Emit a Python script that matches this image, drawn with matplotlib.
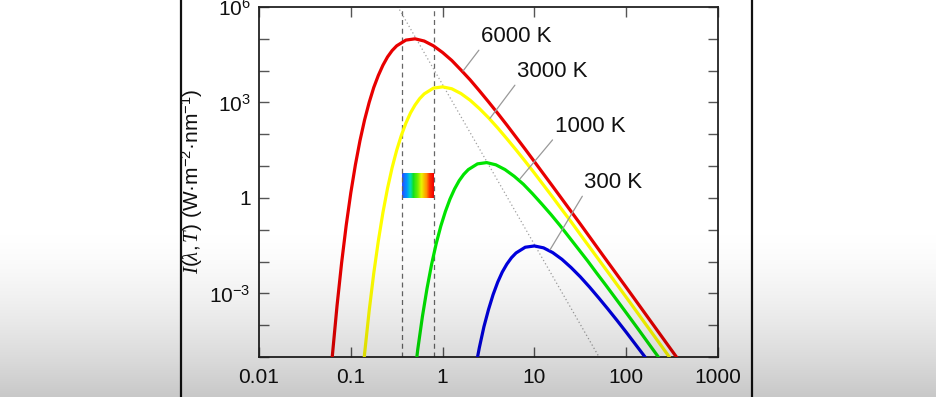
import numpy as np
import matplotlib
matplotlib.use("Agg")
import matplotlib.pyplot as plt
from matplotlib.colors import LinearSegmentedColormap
from matplotlib.lines import Line2D
from matplotlib.ticker import FixedLocator, FixedFormatter, NullLocator, NullFormatter

plt.rcParams['font.family'] = ['Liberation Sans', 'DejaVu Sans']
plt.rcParams['mathtext.fontset'] = 'custom'
plt.rcParams['mathtext.rm'] = 'Liberation Sans'
plt.rcParams['mathtext.it'] = 'Liberation Serif:italic'
plt.rcParams['mathtext.bf'] = 'Liberation Sans:bold'

# ---------------- data (log10 wavelength in um, log10 intensity in W m^-2 nm^-1) -------------
temperature_labels = ['6000 K', '3000 K', '1000 K', '300 K']
curve_colors = ['#e80000', '#ffff00', '#00e400', '#0000e0']

log_wl_6000 = [-1.205, -1.20, -1.15, -1.10, -1.05, -1.00, -0.95, -0.90, -0.85, -0.80,
               -0.75, -0.70, -0.65, -0.60, -0.55, -0.50, -0.40, -0.30, -0.20, -0.10,
               0.00, 0.10, 0.20, 0.30, 0.40, 0.50, 0.60, 0.70, 0.80, 0.90,
               1.00, 1.10, 1.20, 1.35, 1.50, 1.75, 2.00, 2.25, 2.56]
log_I_6000 = [-5.10, -4.93, -3.39, -2.04, -0.86, 0.16, 1.04, 1.80, 2.45, 3.00,
              3.47, 3.85, 4.17, 4.43, 4.63, 4.78, 4.96, 5.00, 4.93, 4.78,
              4.57, 4.32, 4.02, 3.71, 3.37, 3.02, 2.66, 2.29, 1.91, 1.53,
              1.14, 0.75, 0.36, -0.23, -0.82, -1.82, -2.81, -3.81, -5.05]

log_wl_3000 = [-0.90, -0.85, -0.80, -0.75, -0.70, -0.65, -0.60, -0.55, -0.50, -0.45,
               -0.40, -0.35, -0.30, -0.25, -0.20, -0.10, 0.00, 0.10, 0.20, 0.30,
               0.40, 0.50, 0.60, 0.70, 0.80, 0.90, 1.00, 1.10, 1.20, 1.30,
               1.40, 1.50, 1.65, 1.80, 2.05, 2.30, 2.55]
log_I_3000 = [-6.44, -4.90, -3.55, -2.37, -1.35, -0.46, 0.30, 0.95, 1.50, 1.96,
              2.35, 2.67, 2.92, 3.12, 3.27, 3.45, 3.49, 3.43, 3.28, 3.07,
              2.81, 2.52, 2.20, 1.86, 1.51, 1.15, 0.78, 0.40, 0.02, -0.37,
              -0.75, -1.15, -1.74, -2.33, -3.32, -4.32, -5.32]

log_wl_1000 = [-0.32, -0.27, -0.22, -0.17, -0.12, -0.07, -0.02, 0.03, 0.08, 0.13,
               0.18, 0.23, 0.28, 0.38, 0.48, 0.58, 0.68, 0.78, 0.88, 0.98,
               1.08, 1.18, 1.28, 1.38, 1.48, 1.58, 1.68, 1.78, 1.88, 1.98,
               2.13, 2.28, 2.53]
log_I_1000 = [-5.93, -4.75, -3.73, -2.85, -2.09, -1.44, -0.89, -0.43, -0.04, 0.28,
              0.54, 0.74, 0.89, 1.07, 1.11, 1.04, 0.89, 0.68, 0.43, 0.13,
              -0.19, -0.52, -0.87, -1.24, -1.61, -1.98, -2.37, -2.75, -3.14, -3.53,
              -4.12, -4.72, -5.71]

log_wl_300 = [0.35, 0.40, 0.45, 0.50, 0.55, 0.60, 0.65, 0.70, 0.75, 0.80,
              0.90, 1.00, 1.10, 1.20, 1.30, 1.40, 1.50, 1.60, 1.70, 1.80,
              1.90, 2.00, 2.10, 2.20, 2.30]
log_I_300 = [-5.46, -4.71, -4.05, -3.51, -3.04, -2.65, -2.33, -2.08, -1.88, -1.73,
             -1.55, -1.51, -1.57, -1.72, -1.93, -2.19, -2.48, -2.80, -3.14, -3.49,
             -3.85, -4.22, -4.60, -4.98, -5.37]

# Wien peak locus (dotted)
log_wl_peak = [-0.49, 1.72]
log_I_peak = [6.02, -5.08]

# visible band
visible_wl = [0.36, 0.80]
band_I = [1.0, 6.0]

# labels
label_wl = [2.62, 6.46, 16.7, 34.7]
label_logI = [5.06, 3.96, 2.24, 0.47]
leader_wl = [1.67, 3.28, 6.97, 14.8]
leader_logI = [3.99, 2.50, 0.60, -1.63]

x_ticks = [0.01, 0.1, 1, 10, 100, 1000]
x_ticklabels = ['0.01', '0.1', '1', '10', '100', '1000']
y_major = [1e-3, 1, 1e3, 1e6]
y_ticklabels = [r'$\mathregular{10^{-3}}$', '1', r'$\mathregular{10^{3}}$', r'$\mathregular{10^{6}}$']
y_minor = [1e-5, 1e-4, 1e-2, 1e-1, 1e1, 1e2, 1e4, 1e5]

# ---------------- figure ----------------
W, H = 936, 397
fig = plt.figure(figsize=(W / 100, H / 100), dpi=100)
fig.patch.set_facecolor('white')
ax = fig.add_axes([259 / W, 1 - 357 / H, (718 - 259) / W, (357 - 7) / H])
ax.set_xscale('log')
ax.set_yscale('log')
ax.set_xlim(0.01, 1000)
ax.set_ylim(1e-5, 1e6)

# visible spectrum band
spec_cmap = LinearSegmentedColormap.from_list('spec', [
    (0.00, '#2a4cff'), (0.14, '#0090ff'), (0.26, '#00d8c0'), (0.36, '#10e020'),
    (0.50, '#70f000'), (0.62, '#e8f000'), (0.76, '#ffa000'), (0.88, '#ff3000'),
    (1.00, '#f00000')])
xe = np.geomspace(visible_wl[0], visible_wl[1], 90)
ye = np.array(band_I)
cvals = np.linspace(0, 1, len(xe) - 1)[None, :]
ax.pcolormesh(xe, ye, cvals, cmap=spec_cmap, shading='flat', zorder=1)

for v in visible_wl:
    ax.axvline(v, color='#666666', lw=0.9, ls=(0, (4, 3)), zorder=2)

ax.plot(10 ** np.array(log_wl_peak), 10 ** np.array(log_I_peak),
        color='#a0a0a0', lw=0.9, ls=(0, (1, 2)), zorder=2)

series = [(log_wl_6000, log_I_6000), (log_wl_3000, log_I_3000),
          (log_wl_1000, log_I_1000), (log_wl_300, log_I_300)]
for (lw_, li_), c in zip(series, curve_colors):
    ax.plot(10 ** np.array(lw_), 10 ** np.array(li_), color=c, lw=2.3,
            solid_capstyle='butt', zorder=3)

for txt, tx, ty, px, py in zip(temperature_labels, label_wl, label_logI, leader_wl, leader_logI):
    ax.annotate(txt, xy=(px, 10 ** py), xytext=(tx, 10 ** ty), textcoords='data',
                ha='left', va='center', fontsize=16, color='#111111', zorder=4,
                arrowprops=dict(arrowstyle='-', color='#999999', lw=0.9,
                                relpos=(0, 0), shrinkA=0, shrinkB=0))

ax.xaxis.set_major_locator(FixedLocator(x_ticks))
ax.xaxis.set_major_formatter(FixedFormatter(x_ticklabels))
ax.xaxis.set_minor_locator(NullLocator())
ax.xaxis.set_minor_formatter(NullFormatter())
ax.yaxis.set_major_locator(FixedLocator(y_major))
ax.yaxis.set_major_formatter(FixedFormatter(y_ticklabels))
ax.yaxis.set_minor_locator(FixedLocator(y_minor))
ax.yaxis.set_minor_formatter(NullFormatter())

ax.tick_params(which='both', direction='in', length=7.5, width=1.0, color='#555555',
               top=True, right=True, labelsize=15, labelcolor='#111111')
ax.tick_params(axis='x', pad=8)
ax.tick_params(axis='y', pad=6)
for s in ax.spines.values():
    s.set_linewidth(1.3)
    s.set_color('#222222')

fig.text(192 / W, 1 - 181 / H, r'$I(\lambda,T)$ (W·m$^{-2}$·nm$^{-1}$)',
         rotation=90, ha='center', va='center', fontsize=15, color='#111111')

# frame lines
for xpx in (181, 752):
    fig.add_artist(Line2D([xpx / W, xpx / W], [0, 1], transform=fig.transFigure,
                          color='#111111', lw=1.6))

# bottom gray overlay gradient
rows = np.arange(H)
alpha = 0.22 * np.clip((rows - 220) / (H - 220), 0, 1) ** 1.6
over = np.zeros((H, 1, 4))
over[:, 0, 3] = alpha
oax = fig.add_axes([0, 0, 1, 1], zorder=20)
oax.imshow(over, aspect='auto', extent=[0, 1, 0, 1], interpolation='bilinear')
oax.set_axis_off()

fig.savefig('out.png', dpi=100)
